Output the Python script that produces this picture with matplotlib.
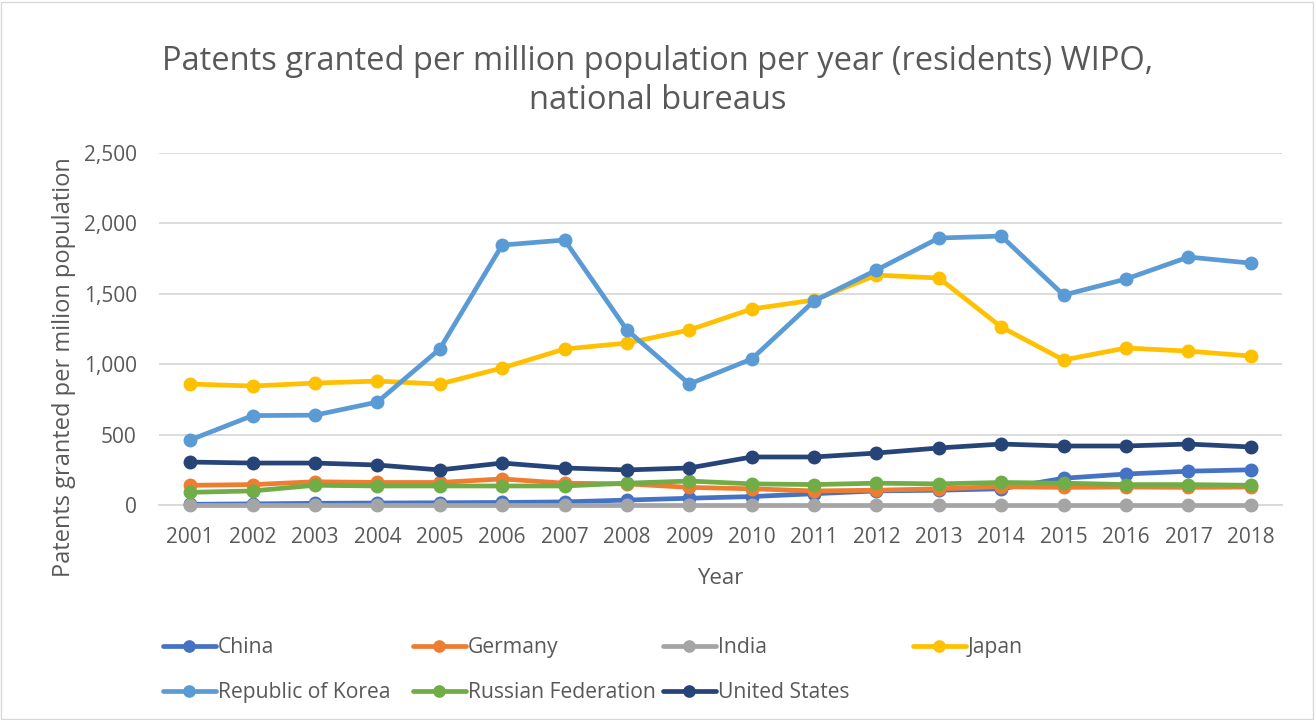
import matplotlib
matplotlib.use("Agg")
import matplotlib.pyplot as plt
from matplotlib.ticker import FuncFormatter
from matplotlib.patches import Rectangle

years = list(range(2001, 2019))
china = [5, 8, 12, 14, 16, 18, 22, 35, 48, 60, 80, 100, 105, 115, 190, 220, 240, 250]
germany = [140, 145, 165, 160, 160, 185, 155, 150, 125, 115, 100, 105, 115, 130, 125, 128, 125, 128]
india = [1, 1, 1, 1, 1, 1, 1, 1, 1, 1, 1, 1, 1, 1, 1, 1, 1, 1]
japan = [859, 845, 866, 880, 859, 973, 1108, 1150, 1243, 1392, 1456, 1633, 1612, 1264, 1030, 1115, 1093, 1058]
korea = [462, 635, 638, 731, 1108, 1846, 1882, 1243, 859, 1037, 1449, 1669, 1896, 1910, 1491, 1605, 1761, 1718]
russia = [90, 100, 140, 135, 135, 135, 135, 155, 170, 150, 145, 155, 150, 160, 155, 145, 145, 140]
usa = [305, 298, 298, 284, 249, 298, 263, 249, 263, 341, 341, 369, 405, 433, 419, 419, 433, 412]

names = ["China", "Germany", "India", "Japan", "Republic of Korea", "Russian Federation", "United States"]
series = [china, germany, india, japan, korea, russia, usa]
colors = ["#4472C4", "#ED7D31", "#A5A5A5", "#FFC000", "#5B9BD5", "#70AD47", "#264478"]

plt.rcParams['font.family'] = ['Open Sans', 'DejaVu Sans']
txt = "#595959"

fig = plt.figure(figsize=(13.16, 7.2), dpi=100)
W, H = 1316, 720
ax = fig.add_axes([159 / W, 1 - 505 / H, (1282 - 159) / W, (505 - 153) / H])

handles = []
for k, (name, vals, c) in enumerate(zip(names, series, colors)):
    h, = ax.plot(years, vals, color=c, lw=3.4, marker='o', markersize=9, label=name,
                 solid_capstyle='round', solid_joinstyle='round', clip_on=False, zorder=3 + k * 0.1)
    handles.append(h)

ax.set_xlim(2000.5, 2018.5)
ax.set_ylim(0, 2500)
ax.set_yticks([0, 500, 1000, 1500, 2000, 2500])
ax.yaxis.set_major_formatter(FuncFormatter(lambda v, p: f"{int(v):,}"))
ax.set_xticks(years)
ax.grid(axis='y', color='#d9d9d9', lw=1.3)
ax.set_axisbelow(True)
for s in ['top', 'right', 'left']:
    ax.spines[s].set_visible(False)
ax.spines['bottom'].set_color('#d9d9d9')
ax.spines['bottom'].set_linewidth(1.3)
ax.spines['bottom'].set_zorder(1)
ax.tick_params(axis='both', length=0, labelsize=15, colors=txt)
ax.tick_params(axis='x', pad=16)
ax.tick_params(axis='y', pad=16)

ax.set_xlabel("Year", fontsize=16, color=txt, labelpad=14)
ax.set_ylabel("Patents granted per milion population", fontsize=17, color=txt)
ax.yaxis.set_label_coords((76 - 159) / 1123, (505 - 367) / 352)

fig.text(0.5, 1 - 81 / H, "Patents granted per million population per year (residents) WIPO,\nnational bureaus",
         ha='center', va='center', fontsize=23.5, color=txt, linespacing=1.22)

cols = [[0, 4], [1, 5], [2, 6], [3]]
xs = [163, 413, 663, 913]
for xi, idxs in zip(xs, cols):
    fig.legend([handles[i] for i in idxs], [names[i] for i in idxs],
               loc='upper left', bbox_to_anchor=(xi / W, 1 - 637 / H),
               frameon=False, fontsize=15.2, labelcolor=txt, handlelength=2.5,
               handletextpad=0.1, borderaxespad=0, borderpad=0, labelspacing=1.15,
               markerscale=0.9)

fig.patches.append(Rectangle((1 / W, 1 / H), 1 - 4 / W, 1 - 3 / H, transform=fig.transFigure,
                             fill=False, edgecolor='#d9d9d9', lw=1))

fig.savefig("out.png", dpi=100)
